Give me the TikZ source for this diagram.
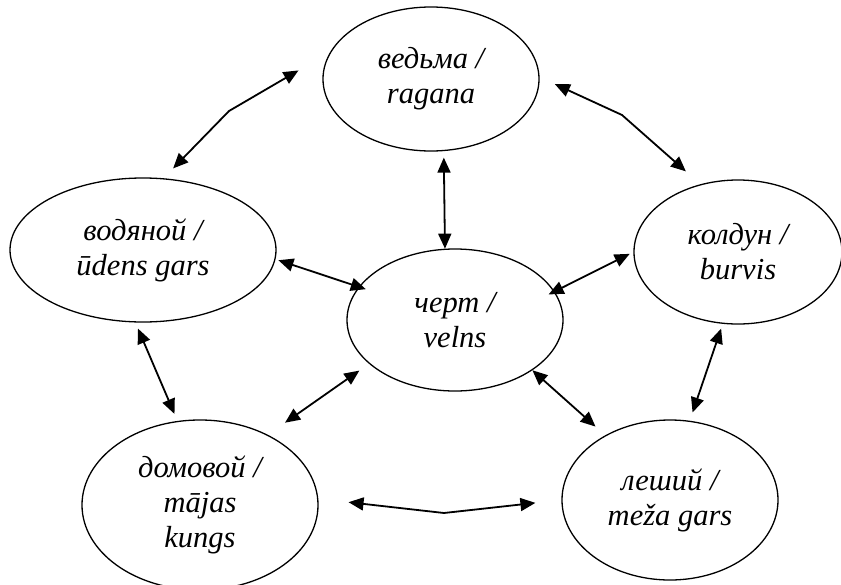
\documentclass[tikz,border=0pt]{standalone}
\usepackage{fontspec}
\setmainfont{Liberation Serif}
\usetikzlibrary{shapes.geometric,arrows.meta}

\begin{document}
\begin{tikzpicture}[x=1pt,y=-1pt,
            being/.style={ellipse,draw,line width=1.3pt,inner sep=0pt,align=center,
              font=\fontsize{30.5}{35}\selectfont\itshape},
            link/.style={{Triangle[length=15pt,width=13pt]}-{Triangle[length=15pt,width=13pt]},
              line width=1.8pt}]
\useasboundingbox (0,0) rectangle (841,584);
% spirits
\node[being,minimum width=216pt,minimum height=144pt] (ragana) at (431,79) {ведьма /\\ragana};
\node[being,minimum width=266pt,minimum height=144pt] (udens) at (143,250) {водяной /\\ūdens gars};
\node[being,minimum width=216pt,minimum height=142pt] (velns) at (455,320) {черт /\\velns};
\node[being,minimum width=208pt,minimum height=144pt] (burvis) at (738,252) {колдун /\\burvis};
\node[being,minimum width=236pt,minimum height=170pt] (majas) at (200,505) {домовой /\\mājas\\kungs};
\node[being,minimum width=216pt,minimum height=160pt] (meza) at (670,500) {леший /\\meža gars};
% bends
\coordinate (kUR) at (229,111);
\coordinate (kRK) at (622,115);
\coordinate (kML) at (444,513);
% links
\draw[link,shorten <=36.6pt,shorten >=13.7pt] (ragana.165.2) -- (kUR) -- (udens.74.8);
\draw[link,shorten <=16.8pt,shorten >=19.4pt] (ragana.1.75) -- (kRK) -- (burvis.119.2);
\draw[link,shorten <=30.4pt,shorten >=26.1pt] (majas.3.2) -- (kML) -- (meza.180.8);
\draw[link,shorten <=6.5pt] (ragana.280.3) -- (velns.98.9);
\draw[link,shorten <=3pt,shorten >=-7.5pt] (udens.356.5) -- (velns.161.3);
\draw[link,shorten <=-6.7pt,shorten >=4.1pt] (velns.16.9) -- (burvis.180.7);
\draw[link,shorten <=6.6pt,shorten >=7.6pt] (udens.264) -- (majas.105.1);
\draw[link,shorten <=11.8pt,shorten >=21pt] (velns.207.8) -- (majas.46.5);
\draw[link,shorten >=13pt] (velns.327.4) -- (meza.135);
\draw[link,shorten <=5pt,shorten >=8.7pt] (burvis.258.7) -- (meza.76.4);
\end{tikzpicture}
\end{document}
